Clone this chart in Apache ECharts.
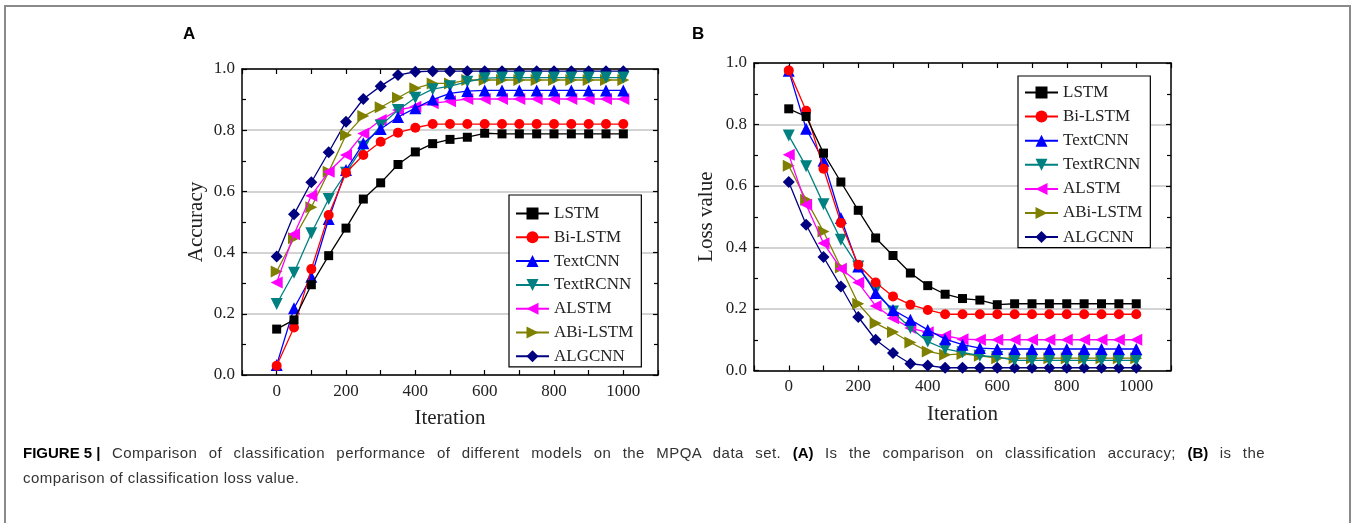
<!DOCTYPE html>
<html>
<head>
<meta charset="utf-8">
<script src="https://cdn.jsdelivr.net/npm/echarts@6/dist/echarts.min.js"></script>
<style>
  html, body { margin: 0; padding: 0; background: #fff; }
  #wrap { position: relative; width: 1357px; height: 523px; }
  #fig { width: 1357px; height: 523px; }
  #caption {
    position: absolute; left: 23px; top: 440px; width: 1242px;
    font: 15px "Liberation Sans", Arial, sans-serif; color: #333;
    line-height: 25px; letter-spacing: 0.45px;
  }
  #caption .l1 { display: block; text-align: justify; text-align-last: justify; white-space: nowrap; }
  #caption b { color: #000; letter-spacing: 0; }
  #caption .lab { display: inline-block; white-space: pre; }
</style>
</head>
<body>
<div id="wrap">
  <div id="fig"></div>
  <div id="caption">
    <span class="l1"><b class="lab">FIGURE 5 |</b> Comparison of classification performance of different models on the MPQA data set. <b>(A)</b> Is the comparison on classification accuracy; <b>(B)</b> is the</span>
    <span>comparison of classification loss value.</span>
  </div>
</div>
<script>
// iterations on the x axis
const iterations = [0, 50, 100, 150, 200, 250, 300, 350, 400, 450, 500,
                    550, 600, 650, 700, 750, 800, 850, 900, 950, 1000];
const models = ['LSTM', 'Bi-LSTM', 'TextCNN', 'TextRCNN', 'ALSTM', 'ABi-LSTM', 'ALGCNN'];
const xTicks = [0, 200, 400, 600, 800, 1000];

// (A) accuracy
const accLSTM     = [0.15, 0.18, 0.295, 0.39, 0.48, 0.575, 0.628, 0.688, 0.729, 0.756, 0.77,
                     0.777, 0.79, 0.788, 0.788, 0.788, 0.788, 0.788, 0.788, 0.788, 0.788];
const accBiLSTM   = [0.03, 0.155, 0.346, 0.523, 0.661, 0.719, 0.762, 0.792, 0.808, 0.82, 0.82,
                     0.82, 0.82, 0.82, 0.82, 0.82, 0.82, 0.82, 0.82, 0.82, 0.82];
const accTextCNN  = [0.033, 0.218, 0.321, 0.51, 0.67, 0.757, 0.804, 0.843, 0.872, 0.9, 0.92,
                     0.928, 0.93, 0.93, 0.93, 0.93, 0.93, 0.93, 0.93, 0.93, 0.93];
const accTextRCNN = [0.232, 0.334, 0.463, 0.575, 0.661, 0.746, 0.815, 0.866, 0.906, 0.934, 0.944,
                     0.958, 0.97, 0.972, 0.972, 0.972, 0.972, 0.972, 0.972, 0.972, 0.972];
const accALSTM    = [0.302, 0.46, 0.586, 0.664, 0.719, 0.789, 0.833, 0.866, 0.877, 0.888, 0.895,
                     0.902, 0.902, 0.902, 0.902, 0.902, 0.902, 0.902, 0.902, 0.902, 0.902];
const accABiLSTM  = [0.338, 0.447, 0.548, 0.664, 0.784, 0.846, 0.875, 0.906, 0.937, 0.953, 0.953,
                     0.964, 0.964, 0.964, 0.964, 0.964, 0.964, 0.964, 0.964, 0.964, 0.964];
const accALGCNN   = [0.387, 0.525, 0.63, 0.728, 0.828, 0.902, 0.944, 0.98, 0.991, 0.993, 0.993,
                     0.993, 0.993, 0.993, 0.993, 0.993, 0.993, 0.993, 0.993, 0.993, 0.993];

// (B) loss value
const lossLSTM     = [0.851, 0.826, 0.707, 0.613, 0.521, 0.431, 0.374, 0.317, 0.276, 0.248, 0.234,
                      0.229, 0.214, 0.217, 0.217, 0.217, 0.217, 0.217, 0.217, 0.217, 0.217];
const lossBiLSTM   = [0.976, 0.845, 0.656, 0.48, 0.344, 0.286, 0.241, 0.214, 0.197, 0.183, 0.183,
                      0.183, 0.183, 0.183, 0.183, 0.183, 0.183, 0.183, 0.183, 0.183, 0.183];
const lossTextCNN  = [0.975, 0.786, 0.682, 0.496, 0.338, 0.252, 0.197, 0.165, 0.132, 0.102, 0.084,
                      0.073, 0.07, 0.07, 0.07, 0.07, 0.07, 0.07, 0.07, 0.07, 0.07];
const lossTextRCNN = [0.764, 0.664, 0.541, 0.425, 0.338, 0.26, 0.192, 0.138, 0.094, 0.07, 0.059,
                      0.048, 0.044, 0.033, 0.033, 0.033, 0.033, 0.033, 0.033, 0.033, 0.033];
const lossALSTM    = [0.702, 0.539, 0.414, 0.331, 0.286, 0.21, 0.17, 0.138, 0.124, 0.113, 0.102,
                      0.1, 0.1, 0.1, 0.1, 0.1, 0.1, 0.1, 0.1, 0.1, 0.1];
const lossABiLSTM  = [0.666, 0.555, 0.452, 0.335, 0.217, 0.154, 0.125, 0.091, 0.062, 0.051, 0.054,
                      0.048, 0.04, 0.04, 0.04, 0.04, 0.04, 0.04, 0.04, 0.04, 0.04];
const lossALGCNN   = [0.613, 0.474, 0.369, 0.273, 0.174, 0.1, 0.057, 0.022, 0.016, 0.009, 0.009,
                      0.009, 0.009, 0.009, 0.009, 0.009, 0.009, 0.009, 0.009, 0.009, 0.009];

const accuracy = [accLSTM, accBiLSTM, accTextCNN, accTextRCNN, accALSTM, accABiLSTM, accALGCNN];
const loss = [lossLSTM, lossBiLSTM, lossTextCNN, lossTextRCNN, lossALSTM, lossABiLSTM, lossALGCNN];

// marker look for each model
const looks = [
  { color: '#000000', symbol: 'rect', rot: 0, size: 9 },
  { color: '#ff0000', symbol: 'circle', rot: 0, size: 10 },
  { color: '#0000ff', symbol: 'triangle', rot: 0, size: 12 },
  { color: '#008080', symbol: 'triangle', rot: 180, size: 12 },
  { color: '#ff00ff', symbol: 'triangle', rot: 90, size: 12 },
  { color: '#808000', symbol: 'triangle', rot: -90, size: 12 },
  { color: '#000080', symbol: 'diamond', rot: 0, size: 12 }
];

const serif = '"Liberation Serif", "Times New Roman", serif';
const sans = '"Liberation Sans", Arial, sans-serif';
const ink = '#222';

function xAxes(g, name) {
  let base = {
    gridIndex: g, type: 'value', min: -100, max: 1100, interval: 100,
    axisLine: { onZero: false, lineStyle: { color: '#000', width: 1.5 } },
    axisTick: { inside: true, length: 5, lineStyle: { color: '#000', width: 1.2 } },
    splitLine: { show: false }
  };
  return [
    Object.assign({}, base, {
      position: 'bottom', name: name, nameLocation: 'middle', nameGap: 33,
      nameTextStyle: { fontFamily: serif, fontSize: 21, color: ink },
      axisLabel: {
        fontFamily: serif, fontSize: 17, color: ink, margin: 8,
        formatter: v => xTicks.indexOf(v) >= 0 ? String(v) : ''
      }
    }),
    Object.assign({}, base, { position: 'top', axisLabel: { show: false } })
  ];
}

function yAxes(g, name, gap) {
  let base = {
    gridIndex: g, type: 'value', min: 0, max: 1, interval: 0.2,
    axisLine: { onZero: false, lineStyle: { color: '#000', width: 1.5 } },
    axisTick: { inside: true, length: 5, lineStyle: { color: '#000', width: 1.2 } },
    minorTick: { show: true, splitNumber: 2, length: 4, lineStyle: { color: '#000', width: 1.2 } }
  };
  return [
    Object.assign({}, base, {
      position: 'left', name: name, nameLocation: 'middle', nameGap: gap,
      nameTextStyle: { fontFamily: serif, fontSize: 21, color: ink },
      axisLabel: { fontFamily: serif, fontSize: 17, color: ink, margin: 7, formatter: v => v.toFixed(1) },
      splitLine: { show: true, lineStyle: { color: '#c4c4c4', width: 1.5 } }
    }),
    Object.assign({}, base, { position: 'right', axisLabel: { show: false }, splitLine: { show: false } })
  ];
}

function makeSeries(values, g) {
  return models.map((m, i) => ({
    name: m, type: 'line', xAxisIndex: g * 2, yAxisIndex: g * 2,
    data: iterations.map((it, k) => [it, values[i][k]]),
    symbol: looks[i].symbol, symbolRotate: looks[i].rot, symbolSize: looks[i].size,
    showAllSymbol: true, animation: false, z: 10 - i,
    lineStyle: { color: looks[i].color, width: 1.3 },
    itemStyle: { color: looks[i].color, borderWidth: 0 }
  }));
}

function legendAt(left, top, gap, pad) {
  return {
    data: models, orient: 'vertical', left: left, top: top,
    itemGap: gap, itemWidth: 33, itemHeight: 15, padding: pad,
    borderColor: '#000', borderWidth: 1.2, backgroundColor: '#fff',
    selectedMode: false,
    textStyle: { fontFamily: serif, fontSize: 17, color: ink, lineHeight: 17 }
  };
}

const chart = echarts.init(document.getElementById('fig'));
chart.setOption({
  animation: false,
  grid: [
    { left: 242, top: 69, width: 416, height: 306 },
    { left: 754, top: 63, width: 417, height: 307.5 }
  ],
  xAxis: xAxes(0, 'Iteration').concat(xAxes(1, 'Iteration')),
  yAxis: yAxes(0, 'Accuracy', 35).concat(yAxes(1, 'Loss value', 37)),
  legend: [
    legendAt(509, 195, 6.8, [10, 8, 2, 6]),
    legendAt(1018, 76, 7.1, [8, 8, 2, 6])
  ],
  series: makeSeries(accuracy, 0).concat(makeSeries(loss, 1)),
  graphic: [
    {
      type: 'rect', silent: true,
      shape: { x: 5, y: 6, width: 1345, height: 600 },
      style: { fill: 'none', stroke: '#8a8a8a', lineWidth: 2 }
    },
    {
      type: 'text', left: 183, top: 26,
      style: { text: 'A', font: 'bold 17px ' + sans, fill: '#000' }
    },
    {
      type: 'text', left: 692, top: 26,
      style: { text: 'B', font: 'bold 17px ' + sans, fill: '#000' }
    }
  ]
});
</script>
</body>
</html>
